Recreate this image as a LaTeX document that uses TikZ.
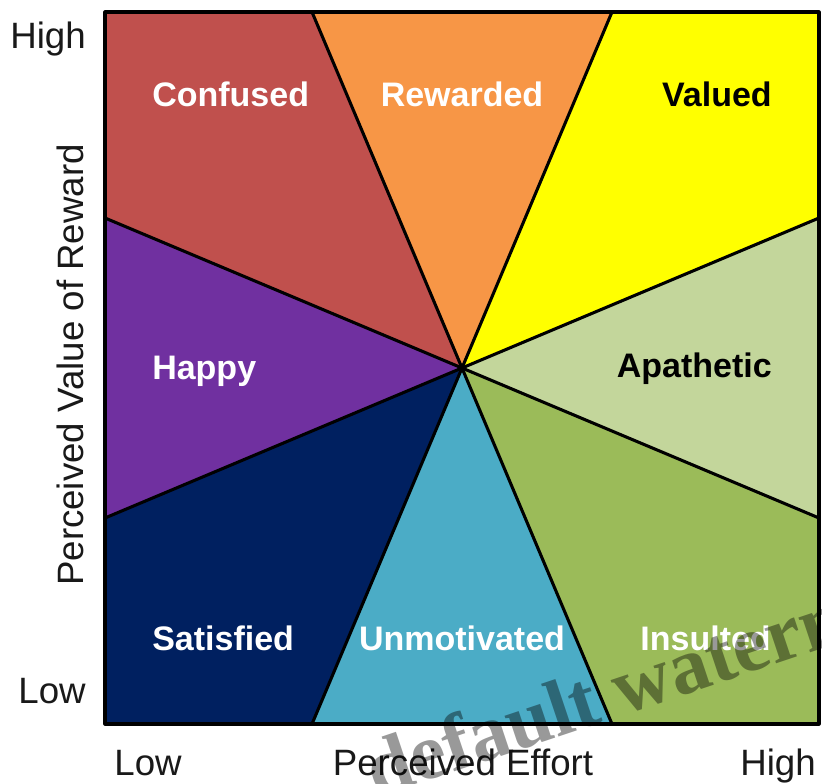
\documentclass[tikz,border=0pt]{standalone}
\usepackage{fontspec}
\setmainfont{Liberation Sans}
\newfontfamily\wmfont{Liberation Serif}
\begin{document}
\begin{tikzpicture}[x=0.75pt,y=-0.75pt,
  wedge/.style={draw=none},
  edgeline/.style={line width=2.3pt,line join=round},
  lbl/.style={font=\fontsize{25.5}{28}\selectfont\bfseries,inner sep=0pt},
  axislbl/.style={font=\fontsize{27.5}{30}\selectfont,inner sep=0pt,text=black!90}]
\useasboundingbox (0,0) rectangle (822,784);
\fill[white] (0,0) rectangle (822,784);

% centre of the chart and the eight points where the dividers meet the frame
\coordinate (c) at (462,368);
\coordinate (tl) at (105,12);  \coordinate (tr) at (819,12);
\coordinate (bl) at (105,724); \coordinate (br) at (819,724);
\coordinate (t1) at (312,12);  \coordinate (t2) at (612,12);
\coordinate (r1) at (819,218); \coordinate (r2) at (819,518);
\coordinate (b1) at (612,724); \coordinate (b2) at (312,724);
\coordinate (l1) at (105,518); \coordinate (l2) at (105,218);

% coloured sectors
\fill[wedge,fill={rgb,255:red,192;green,80;blue,77}]   (c) -- (t1) -- (tl) -- (l2) -- cycle;
\fill[wedge,fill={rgb,255:red,247;green,150;blue,70}]  (c) -- (t1) -- (t2) -- cycle;
\fill[wedge,fill={rgb,255:red,255;green,255;blue,0}]   (c) -- (t2) -- (tr) -- (r1) -- cycle;
\fill[wedge,fill={rgb,255:red,195;green,214;blue,155}] (c) -- (r1) -- (r2) -- cycle;
\fill[wedge,fill={rgb,255:red,155;green,187;blue,89}]  (c) -- (r2) -- (br) -- (b1) -- cycle;
\fill[wedge,fill={rgb,255:red,75;green,172;blue,198}]  (c) -- (b1) -- (b2) -- cycle;
\fill[wedge,fill={rgb,255:red,0;green,32;blue,96}]     (c) -- (b2) -- (bl) -- (l1) -- cycle;
\fill[wedge,fill={rgb,255:red,112;green,48;blue,160}]  (c) -- (l1) -- (l2) -- cycle;

% dividers and frame
\foreach \p in {t1,t2,r1,r2,b1,b2,l1,l2} \draw[edgeline] (c) -- (\p);
\draw[edgeline] (tl) rectangle (br);

% sector labels
\node[lbl,text=white,anchor=base west] (confused) at (152,107) {Confused};
\node[lbl,text=white,anchor=base] (rewarded) at (462,107) {Rewarded};
\node[lbl,text=black,anchor=base east] (valued) at (772,107) {Valued};
\node[lbl,text=white,anchor=base west] (happy) at (152,380) {Happy};
\node[lbl,text=black,anchor=base east] (apathetic) at (772,378) {Apathetic};
\node[lbl,text=white,anchor=base west] (satisfied) at (152,650) {Satisfied};
\node[lbl,text=white,anchor=base] (unmotivated) at (462,650) {Unmotivated};
\node[lbl,text=white,anchor=base east] (insulted) at (771,650) {Insulted};

% axis labels
\node[axislbl,anchor=base east] (yhigh) at (86,49) {High};
\node[axislbl,anchor=base east] (ylow) at (86,703) {Low};
\node[axislbl,anchor=base,rotate=90] (ytitle) at (83,365) {Perceived Value of Reward};
\node[axislbl,anchor=base] (xlow) at (148,775) {Low};
\node[axislbl,anchor=base] (xtitle) at (463,775) {Perceived Effort};
\node[axislbl,anchor=base] (xhigh) at (778,775) {High};

% watermark
\node[anchor=base west,rotate=18.5,inner sep=0pt,text=black,text opacity=0.4,
      font=\wmfont\fontsize{60}{60}\selectfont\bfseries] (wm) at (376,798) {default watermark};
\end{tikzpicture}
\end{document}
